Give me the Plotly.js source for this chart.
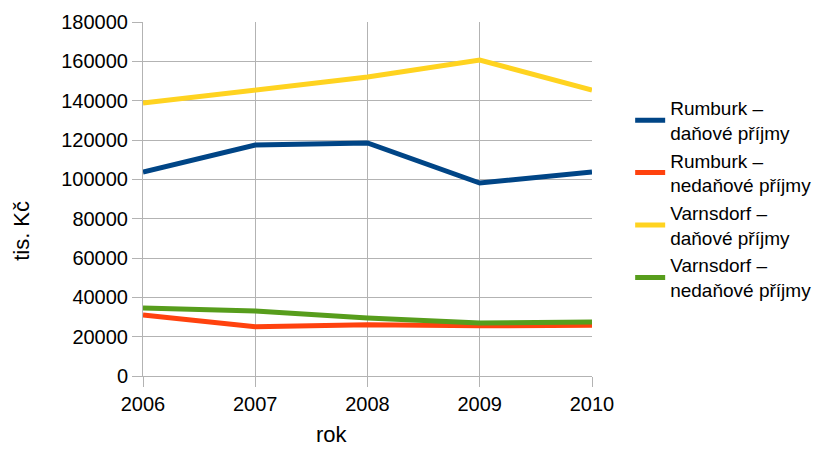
<!DOCTYPE html>
<html><head><meta charset="utf-8">
<script src="https://cdn.plot.ly/plotly-3.0.1.min.js"></script>
<style>body{margin:0}#c{width:828px;height:450px}</style>
</head><body><div id="c"></div>
<script>
const years = ['2006', '2007', '2008', '2009', '2010'];
const rumburkTax = [103700, 117400, 118500, 98100, 103700];
const rumburkNonTax = [31000, 25000, 26000, 25500, 25800];
const varnsdorfTax = [138800, 145400, 152000, 160600, 145400];
const varnsdorfNonTax = [34600, 33000, 29500, 27000, 27500];

const names = ['Rumburk –<br>daňové příjmy', 'Rumburk –<br>nedaňové příjmy',
  'Varnsdorf –<br>daňové příjmy', 'Varnsdorf –<br>nedaňové příjmy'];
const colors = ['#004586', '#ff420e', '#ffd320', '#579d1c'];
const series = [rumburkTax, rumburkNonTax, varnsdorfTax, varnsdorfNonTax];

const traces = series.map((y, i) => ({
  x: years, y: y, mode: 'lines', name: names[i],
  line: { color: colors[i], width: 5 }
}));

const plotW = 828 - 143 - 236;
const layout = {
  width: 828, height: 450,
  margin: { l: 143, r: 236, t: 22, b: 74 },
  paper_bgcolor: '#fff', plot_bgcolor: '#fff',
  font: { family: 'Liberation Sans, Arial, sans-serif', size: 20, color: '#000' },
  xaxis: {
    type: 'category', range: [0, 4], showgrid: true, gridcolor: '#b3b3b3',
    showline: true, linecolor: '#b3b3b3', ticks: 'outside', ticklen: 10, tickcolor: '#b3b3b3'
  },
  yaxis: {
    range: [0, 180000], dtick: 20000, showgrid: true, gridcolor: '#b3b3b3',
    showline: true, linecolor: '#b3b3b3', ticks: 'outside', ticklen: 10, tickcolor: '#b3b3b3',
    zeroline: false, tickformat: 'd'
  },
  annotations: [
    { text: 'rok', xref: 'paper', yref: 'paper', x: (332 - 143) / plotW, y: -0.125,
      xanchor: 'center', yanchor: 'top', showarrow: false, font: { size: 22 } },
    { text: 'tis. Kč', xref: 'paper', yref: 'paper', x: (22 - 143) / plotW, y: 0.41, textangle: -90,
      xanchor: 'center', yanchor: 'middle', showarrow: false, font: { size: 22 } }
  ],
  showlegend: true,
  legend: { x: 1.085, y: 0.5, yanchor: 'middle', font: { size: 19 }, tracegroupgap: 5, itemwidth: 30 }
};

Plotly.newPlot('c', traces, layout, { displayModeBar: false, staticPlot: true });
</script></body></html>
